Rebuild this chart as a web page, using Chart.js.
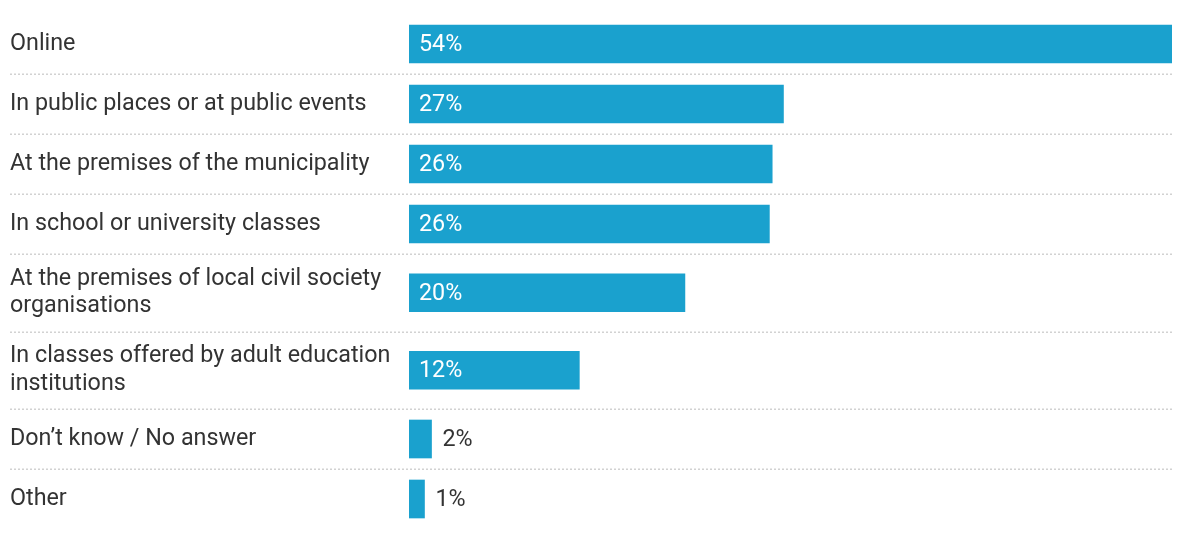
<!DOCTYPE html>
<html>
<head>
<meta charset="utf-8">
<script src="https://cdn.jsdelivr.net/npm/chart.js@4"></script>
<style>
  html, body { margin: 0; padding: 0; background: #fff; }
  #wrap { width: 1186px; height: 535px; position: relative; }
</style>
</head>
<body>
<div id="wrap"><canvas id="chart"></canvas></div>
<script>
const categories = [
  ['Online'],
  ['In public places or at public events'],
  ['At the premises of the municipality'],
  ['In school or university classes'],
  ['At the premises of local civil society', 'organisations'],
  ['In classes offered by adult education', 'institutions'],
  ['Don\u2019t know / No answer'],
  ['Other'],
];

const shares = [54.2, 26.6, 25.8, 25.6, 19.6, 12.1, 1.6, 1.1];

const BAR_COLOR = '#1aa1ce';
const TEXT_COLOR = '#333333';
const FONT = { family: 'Roboto', size: 23.3, lineHeight: 1.17 };

// row height grows with the number of label lines
function rowHeight(lines) {
  return lines.length > 1 ? 77.5 : 60;
}

const rowCenters = [];
const rowEdges = [];
let acc = 0;
categories.forEach((lines, i) => {
  const h = rowHeight(lines);
  rowCenters.push(acc + h / 2);
  acc += h;
  if (i < categories.length - 1) rowEdges.push(acc);
});
const totalHeight = acc;

const separators = {
  id: 'separators',
  beforeDatasetsDraw(chart) {
    const { ctx, scales: { y, x } } = chart;
    ctx.save();
    ctx.strokeStyle = '#d2d2d2';
    ctx.lineWidth = 1.5;
    ctx.setLineDash([2, 2]);
    rowEdges.forEach(v => {
      const py = Math.round(y.getPixelForValue(v)) + 0.25;
      ctx.beginPath();
      ctx.moveTo(10, py);
      ctx.lineTo(x.right, py);
      ctx.stroke();
    });
    ctx.restore();
  },
};

const valueLabels = {
  id: 'valueLabels',
  afterDatasetsDraw(chart) {
    const { ctx } = chart;
    const meta = chart.getDatasetMeta(0);
    ctx.save();
    ctx.font = `${FONT.size}px ${FONT.family}`;
    ctx.textBaseline = 'middle';
    ctx.textAlign = 'left';
    meta.data.forEach((bar, i) => {
      const text = Math.round(shares[i]) + '%';
      const w = ctx.measureText(text).width;
      const barW = bar.x - bar.base;
      if (barW > w + 24) {
        ctx.fillStyle = '#ffffff';
        ctx.fillText(text, bar.base + 10, bar.y + 1);
      } else {
        ctx.fillStyle = TEXT_COLOR;
        ctx.fillText(text, bar.x + 11, bar.y + 1);
      }
    });
    ctx.restore();
  },
};

Chart.defaults.font.family = FONT.family;
Chart.defaults.color = TEXT_COLOR;

new Chart(document.getElementById('chart'), {
  type: 'bar',
  data: {
    datasets: [{
      data: shares.map((v, i) => ({ x: v, y: rowCenters[i] })),
      backgroundColor: BAR_COLOR,
      borderWidth: 0,
      barThickness: 38,
    }],
  },
  options: {
    indexAxis: 'y',
    responsive: true,
    maintainAspectRatio: false,
    animation: false,
    layout: { padding: { left: 10, right: 14, top: 14, bottom: 6 } },
    plugins: {
      legend: { display: false },
      tooltip: { enabled: false },
    },
    scales: {
      x: {
        type: 'linear',
        min: 0,
        max: shares[0],
        display: false,
      },
      y: {
        type: 'linear',
        reverse: true,
        offset: false,
        min: 0,
        max: totalHeight,
        grid: { display: false },
        border: { display: false },
        afterBuildTicks: scale => {
          scale.ticks = rowCenters.map(v => ({ value: v }));
        },
        afterFit: scale => {
          scale.width = 399;
          scale.paddingTop = 0;
          scale.paddingBottom = 0;
        },
        ticks: {
          autoSkip: false,
          crossAlign: 'far',
          padding: 0,
          color: TEXT_COLOR,
          font: FONT,
          callback: (value, index) => categories[index],
        },
      },
    },
  },
  plugins: [separators, valueLabels],
});
</script>
</body>
</html>
